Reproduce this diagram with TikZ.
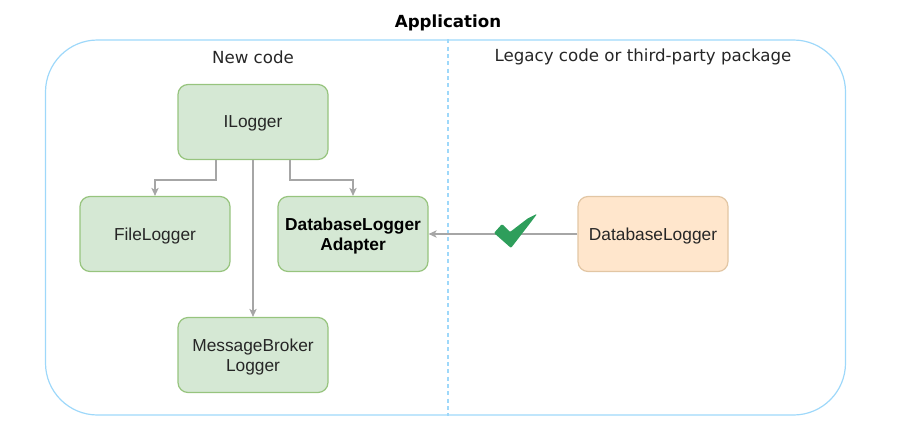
\documentclass[tikz,border=0pt]{standalone}
\usepackage{fontspec}
\setmainfont{Liberation Sans}
\newfontfamily\verdfont{DejaVu Sans}
\usetikzlibrary{arrows.meta,calc}
\definecolor{greenfill}{HTML}{D5E8D4}
\definecolor{greenline}{HTML}{97C47E}
\definecolor{orangefill}{HTML}{FFE6CC}
\definecolor{orangeline}{HTML}{E2C6A4}
\definecolor{appline}{HTML}{9ED8FA}
\definecolor{wiregray}{HTML}{A6A6A6}
\definecolor{textgray}{HTML}{262626}
\definecolor{checkgreen}{HTML}{2E9E5B}

\begin{document}
\begin{tikzpicture}[
  x=0.75pt, y=-0.75pt,
  every node/.style={
    text=textgray, font=\fontsize{13}{15}\selectfont,
  },
  classbox/.style={
    rectangle, rounded corners=7.5pt, draw=greenline, fill=greenfill,
    line width=0.9pt, minimum width=112.5pt, minimum height=56.25pt,
    align=center, inner sep=0pt, text depth=0pt
  },
  legacybox/.style={
    classbox, draw=orangeline, fill=orangefill
  },
  heading/.style={
    font=\verdfont\fontsize{12.5}{15}\selectfont
  },
  wire/.style={
    draw=wiregray, line width=1pt,
    -{Stealth[length=6pt, width=5.5pt, inset=1.5pt]}
  }
  ]
  \useasboundingbox (0,0) rectangle (905,446);

  \node[rectangle, rounded corners=39pt, draw=appline, line width=0.9pt,
    minimum width=600pt, minimum height=281.25pt] (app) at (445.5,227.5) {};
  \node[heading, font=\verdfont\bfseries\fontsize{12.5}{15}\selectfont,
    text=black] (title) at (448,23) {Application};
  \draw[appline, line width=0.9pt, dash pattern=on 3pt off 2.5pt]
    ($(app.north)+(2.5,0)$) -- ($(app.south)+(2.5,0)$);
  \node[heading] (newcode) at (253,57) {New code};
  \node[heading] (legacy) at (643,57) {Legacy code or third-party package};

  \node[classbox] (ilog) at (253,122) {ILogger};
  \node[classbox] (file) at (155,234) {FileLogger};
  \node[classbox, font=\bfseries\fontsize{13}{15}\selectfont, text=black]
    (adapter) at (353,234) {DatabaseLogger\\Adapter};
  \node[classbox] (mb) at (253,355) {MessageBroker\\Logger};
  \node[legacybox] (dblog) at (653,234) {DatabaseLogger};

  \draw[wire] ($(ilog.south)+(-37,0)$) -- ++(0,20) -| (file.north);
  \draw[wire] ($(ilog.south)+(37,0)$) -- ++(0,20) -| (adapter.north);
  \draw[wire] (ilog) -- (mb);
  \draw[wire] (dblog) -- (adapter);

  \fill[checkgreen, rounded corners=0.8pt]
    (494,233) -- (502,224) -- (510,232) -- (527,219)
    .. controls (531,216) .. (537,214)
    .. controls (534,218) .. (531,222) -- (511,248) -- cycle;
\end{tikzpicture}
\end{document}
